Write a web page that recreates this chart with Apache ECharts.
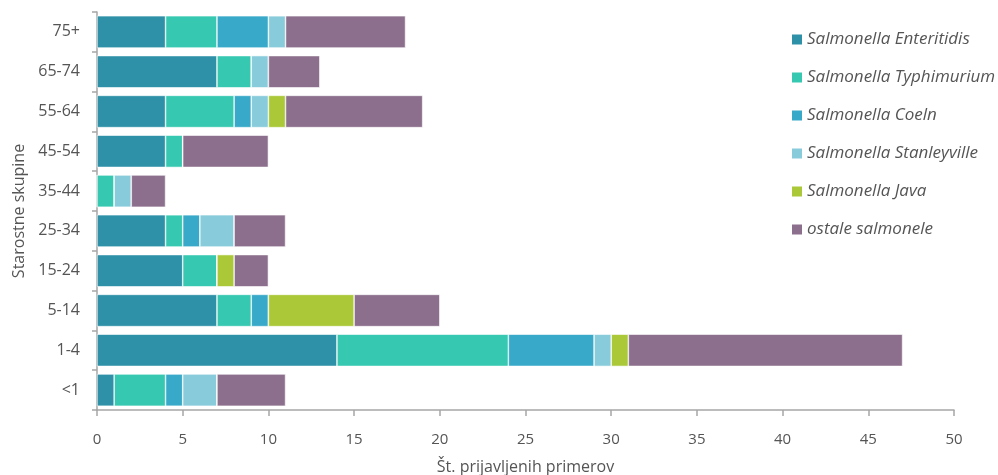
<!DOCTYPE html>
<html>
<head>
<meta charset="utf-8">
<script src="https://cdn.jsdelivr.net/npm/echarts@6/dist/echarts.min.js"></script>
<style>
  html, body { margin: 0; padding: 0; background: #fff; }
  #chart { width: 998px; height: 475px; }
</style>
</head>
<body>
<div id="chart"></div>
<script>
// starostne skupine, od spodaj navzgor
var categories = ["<1", "1-4", "5-14", "15-24", "25-34", "35-44", "45-54", "55-64", "65-74", "75+"];
var xTicks = [0, 5, 10, 15, 20, 25, 30, 35, 40, 45, 50];

var enteritidis  = [1, 14, 7, 5, 4, 0, 4, 4, 7, 4];
var typhimurium  = [3, 10, 2, 2, 1, 1, 1, 4, 2, 3];
var coeln        = [1, 5, 1, 0, 1, 0, 0, 1, 0, 3];
var stanleyville = [2, 1, 0, 0, 2, 1, 0, 1, 1, 1];
var java         = [0, 1, 5, 1, 0, 0, 0, 1, 0, 0];
var ostale       = [4, 16, 5, 2, 3, 2, 5, 8, 3, 7];

var seriesNames = ["Salmonella Enteritidis", "Salmonella Typhimurium", "Salmonella Coeln",
                   "Salmonella Stanleyville", "Salmonella Java", "ostale salmonele"];
var seriesData = [enteritidis, typhimurium, coeln, stanleyville, java, ostale];
var colors = ["#2e91a8", "#36c8b0", "#38a9c8", "#88cbdb", "#aac838", "#8c6f8c"];

var font = "'Open Sans', sans-serif";
var series = [];
for (var i = 0; i < seriesNames.length; i++) {
    series.push({
        name: seriesNames[i],
        type: "bar",
        stack: "total",
        barCategoryGap: "19%",
        data: seriesData[i],
        itemStyle: { color: colors[i], borderColor: "#ffffff", borderWidth: 0.6 },
        emphasis: { disabled: true }
    });
}

var chart = echarts.init(document.getElementById("chart"), null, { renderer: "canvas" });
chart.setOption({
    animation: false,
    color: colors,
    textStyle: { fontFamily: font },
    grid: { left: 97, right: 44, top: 12, bottom: 65, containLabel: false, outerBoundsMode: "none" },
    legend: {
        orient: "vertical",
        left: 785,
        top: 26,
        itemWidth: 12,
        itemHeight: 12,
        itemGap: 21,
        icon: "rect",
        data: seriesNames,
        textStyle: { fontFamily: font, fontSize: 17, fontStyle: "italic", color: "#555555", padding: [0, 0, 0, -1] }
    },
    xAxis: {
        type: "value",
        min: xTicks[0],
        max: xTicks[xTicks.length - 1],
        interval: 5,
        name: "Št. prijavljenih primerov",
        nameLocation: "middle",
        nameGap: 49,
        nameTextStyle: { fontSize: 16, color: "#555555" },
        axisLine: { show: true, lineStyle: { color: "#a6a6a6", width: 1.5 } },
        axisTick: { show: true, length: 6, lineStyle: { color: "#a6a6a6", width: 1.5 } },
        axisLabel: { fontSize: 15, color: "#555555", margin: 22 },
        splitLine: { show: false }
    },
    yAxis: {
        type: "category",
        data: categories,
        name: "Starostne skupine",
        nameLocation: "middle",
        nameGap: 66,
        nameRotate: 90,
        nameTextStyle: { fontSize: 16, color: "#555555" },
        axisLine: { show: true, lineStyle: { color: "#a6a6a6", width: 1.5 } },
        axisTick: { show: true, length: 5, alignWithLabel: false, lineStyle: { color: "#a6a6a6", width: 1.5 } },
        axisLabel: { fontSize: 16, color: "#555555", margin: 17 },
        splitLine: { show: false }
    },
    series: series
});
</script>
</body>
</html>
